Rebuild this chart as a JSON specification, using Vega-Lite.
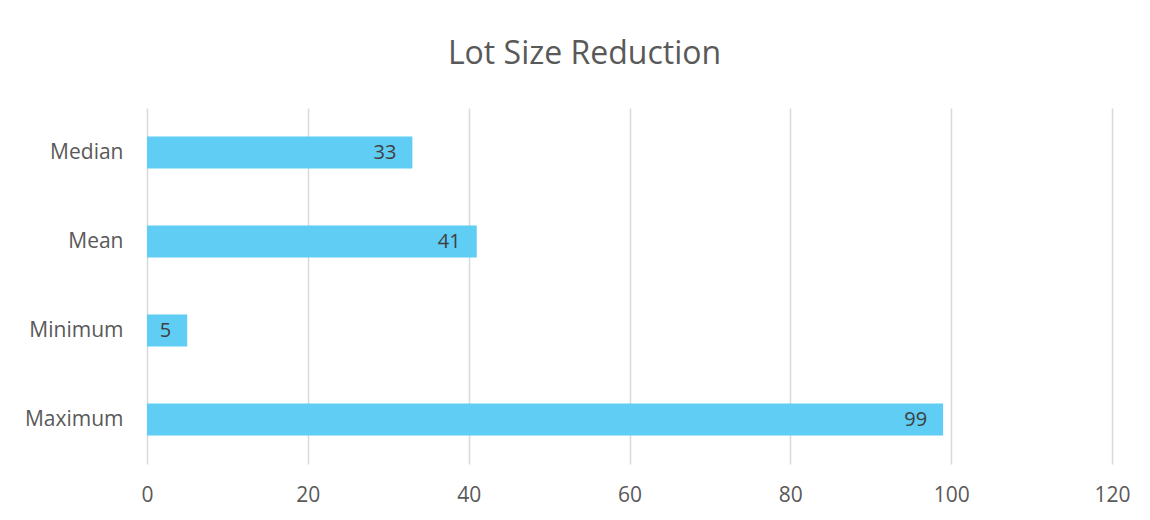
{
  "$schema": "https://vega.github.io/schema/vega-lite/v6.json",
  "width": 965,
  "height": 356,
  "autosize": {"type": "none"},
  "padding": {"left": 147, "top": 108, "right": 38, "bottom": 56},
  "background": "white",
  "title": {
    "text": "Lot Size Reduction",
    "fontSize": 32,
    "font": "Open Sans",
    "fontWeight": "normal",
    "color": "#595959",
    "anchor": "middle",
    "frame": "group",
    "dx": -45,
    "offset": 37
  },
  "data": {
    "values": [
      {"stat": "Median", "value": 33},
      {"stat": "Mean", "value": 41},
      {"stat": "Minimum", "value": 5},
      {"stat": "Maximum", "value": 99}
    ]
  },
  "encoding": {
    "y": {
      "field": "stat",
      "type": "nominal",
      "sort": ["Median", "Mean", "Minimum", "Maximum"],
      "scale": {"paddingInner": 0.64, "paddingOuter": 0.32},
      "axis": {
        "title": null,
        "domain": false,
        "ticks": false,
        "grid": false,
        "labelFont": "Open Sans",
        "labelFontSize": 21,
        "labelColor": "#595959",
        "labelPadding": 24
      }
    },
    "x": {
      "field": "value",
      "type": "quantitative",
      "scale": {"domain": [0, 120], "nice": false},
      "axis": {
        "title": null,
        "values": [0, 20, 40, 60, 80, 100, 120],
        "domain": false,
        "ticks": false,
        "grid": true,
        "gridColor": "#D9D9D9",
        "gridWidth": 1.5,
        "labelFlush": false,
        "labelFont": "Open Sans",
        "labelFontSize": 21,
        "labelColor": "#595959",
        "labelPadding": 20
      }
    }
  },
  "layer": [
    {"mark": {"type": "bar", "color": "#5FCDF4"}},
    {
      "mark": {"type": "text", "align": "right", "dx": -16, "font": "Open Sans", "fontSize": 20, "color": "#404040", "baseline": "middle"},
      "encoding": {"text": {"field": "value", "type": "quantitative"}}
    }
  ],
  "config": {"view": {"stroke": null}}
}
